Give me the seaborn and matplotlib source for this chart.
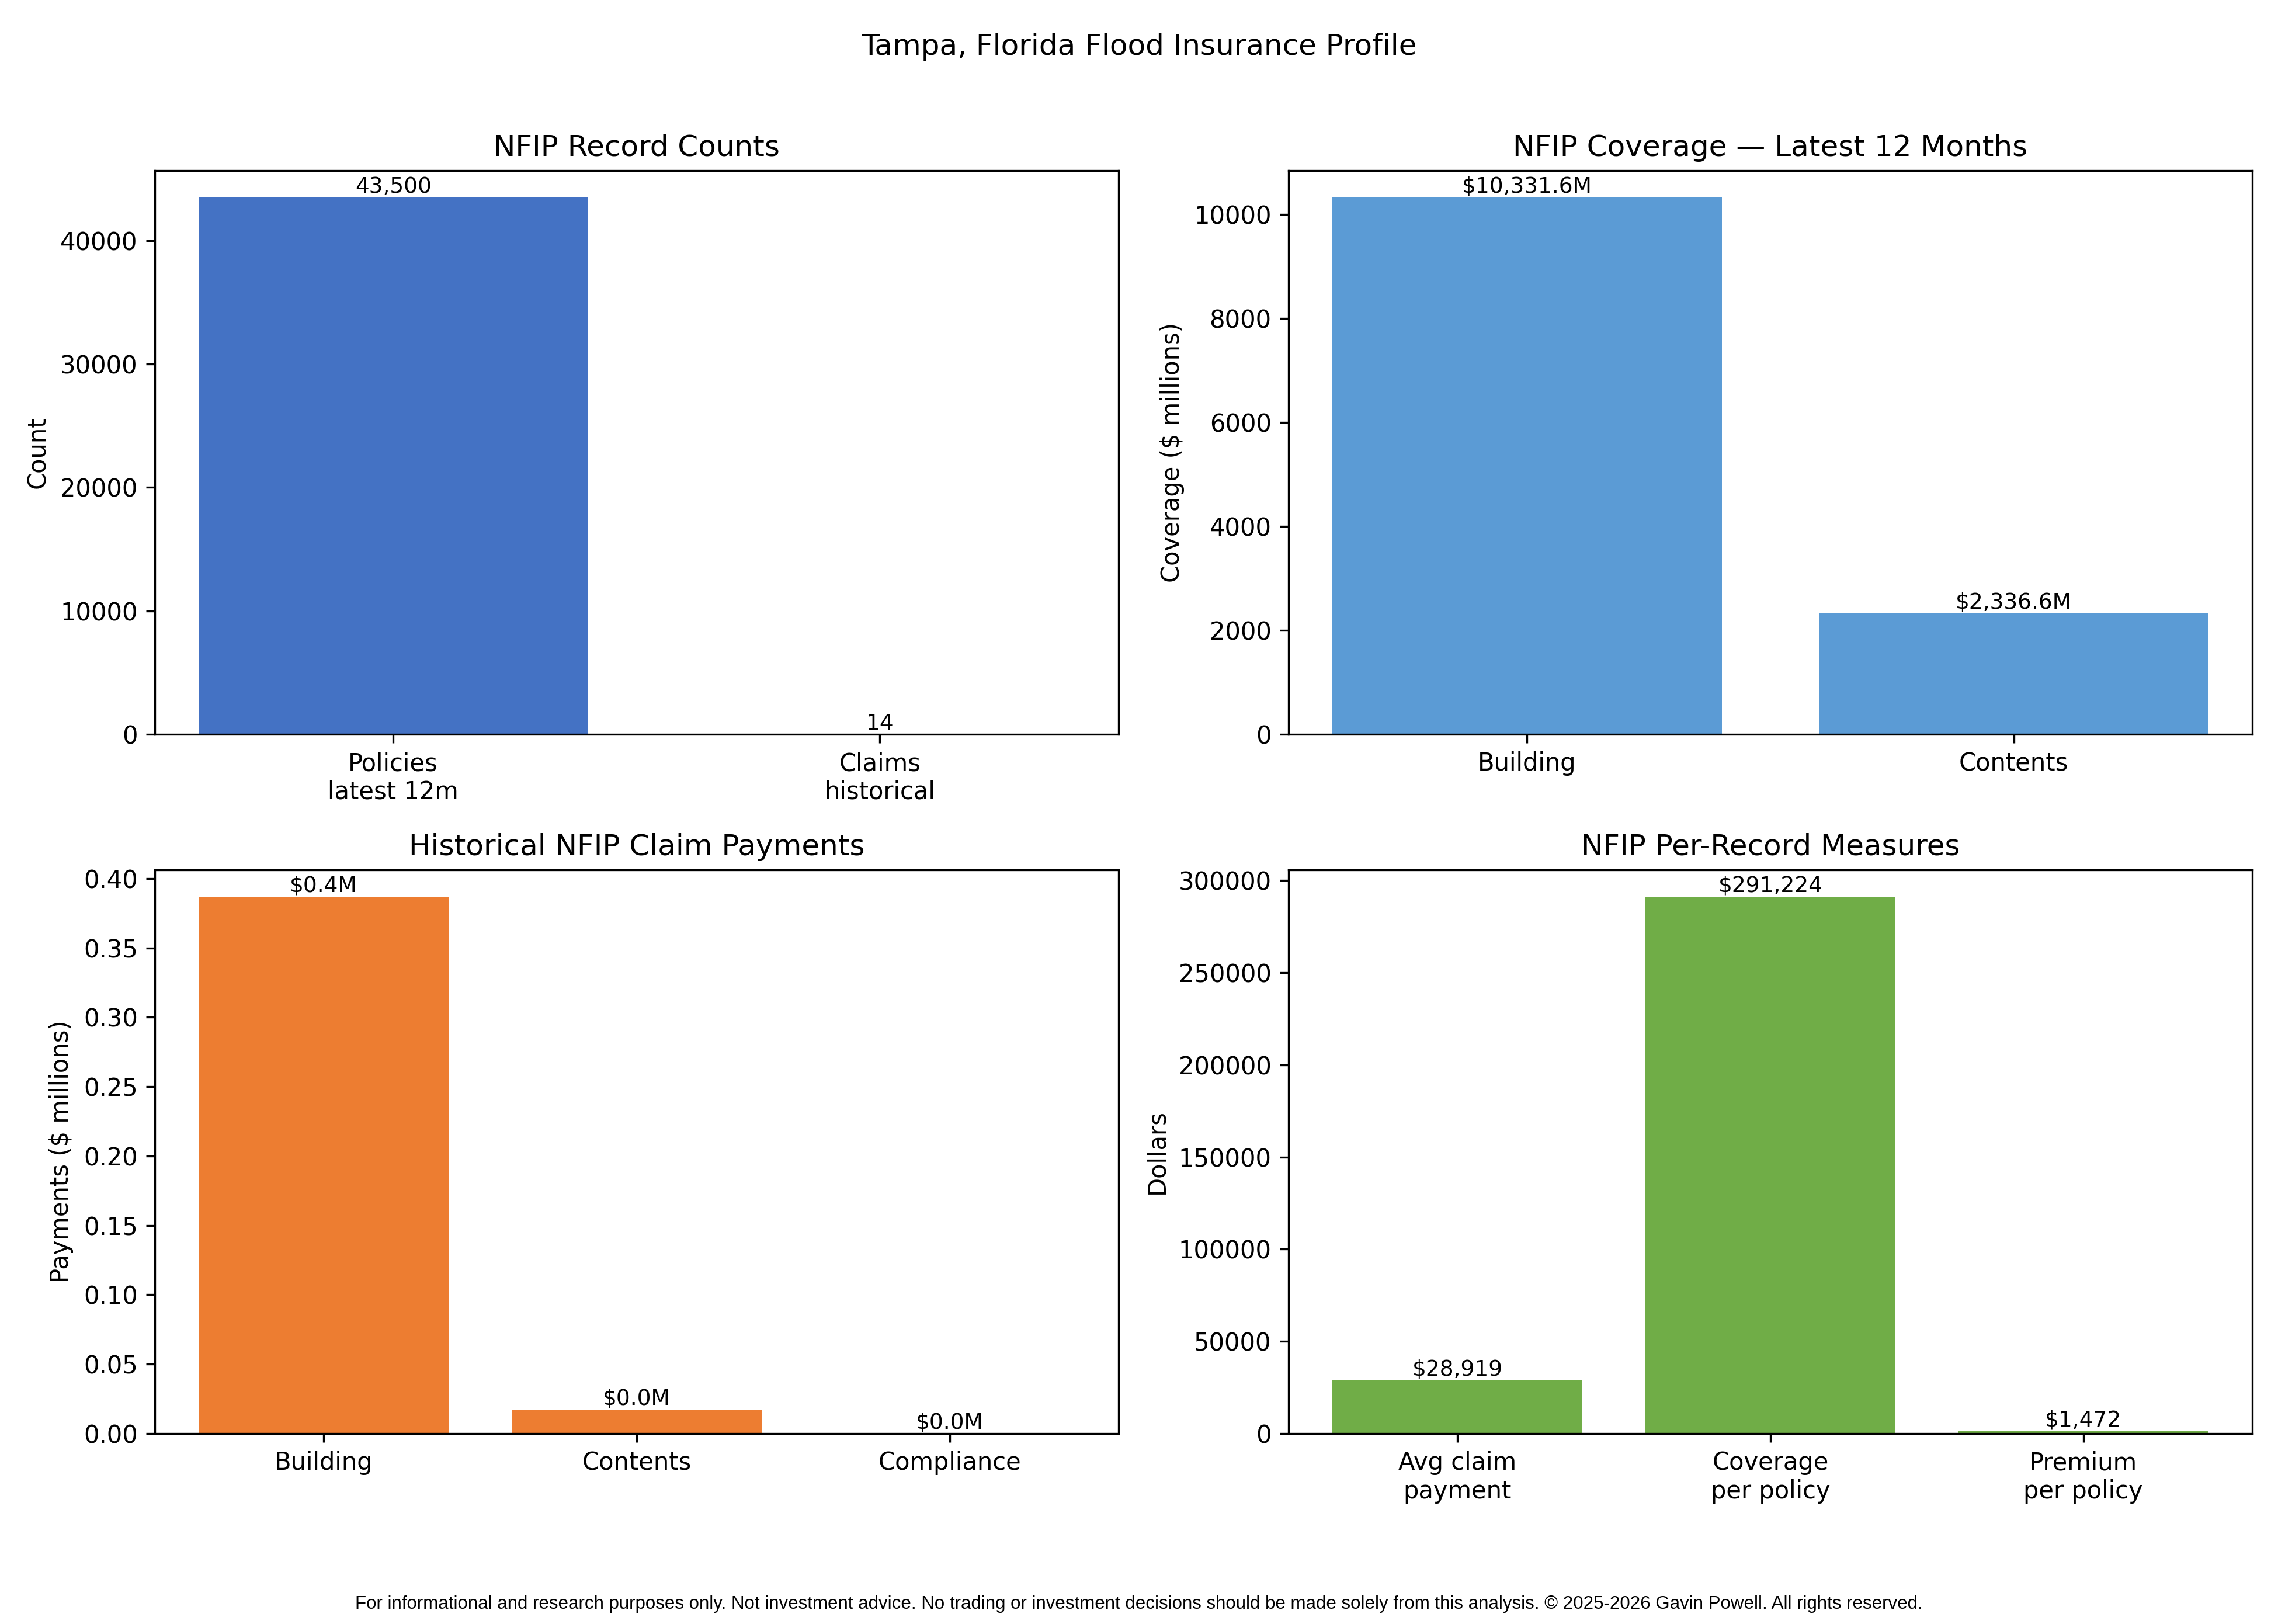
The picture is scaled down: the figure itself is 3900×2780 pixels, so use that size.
import matplotlib
matplotlib.use("Agg")
import matplotlib.pyplot as plt
import seaborn as sns
import pandas as pd

# values
count_labels = ["Policies\nlatest 12m", "Claims\nhistorical"]
count_values = [43500, 14]

coverage_labels = ["Building", "Contents"]
coverage_values = [10331.6, 2336.6]

payment_labels = ["Building", "Contents", "Compliance"]
payment_values = [0.387, 0.0173, 0.0]

measure_labels = ["Avg claim\npayment", "Coverage\nper policy", "Premium\nper policy"]
measure_values = [28919, 291224, 1472]

footer = ("For informational and research purposes only. Not investment advice. "
          "No trading or investment decisions should be made solely from this analysis. "
          "\u00a9 2025-2026 Gavin Powell. All rights reserved.")


def bar_panel(ax, labels, values, color, title, ylabel, fmt):
    df = pd.DataFrame({"label": labels, "value": values})
    sns.barplot(data=df, x="label", y="value", color=color, saturation=1,
                width=0.8, ax=ax)
    # keep matplotlib's usual 5% side margins instead of seaborn's
    n = len(labels)
    pad = 0.05 * (n - 1 + 0.8)
    ax.set_xlim(-0.4 - pad, n - 1 + 0.4 + pad)
    ax.set_title(title)
    ax.set_xlabel("")
    ax.set_ylabel(ylabel)
    ax.bar_label(ax.containers[0], labels=[fmt(v) for v in values], fontsize=9)


fig, axes = plt.subplots(2, 2, figsize=(13, 9.2667))

bar_panel(axes[0, 0], count_labels, count_values, "#4472C4",
          "NFIP Record Counts", "Count", lambda v: f"{v:,.0f}")
bar_panel(axes[0, 1], coverage_labels, coverage_values, "#5B9BD5",
          "NFIP Coverage \u2014 Latest 12 Months", "Coverage ($ millions)",
          lambda v: f"${v:,.1f}M")
bar_panel(axes[1, 0], payment_labels, payment_values, "#ED7D31",
          "Historical NFIP Claim Payments", "Payments ($ millions)",
          lambda v: f"${v:,.1f}M")
bar_panel(axes[1, 1], measure_labels, measure_values, "#70AD47",
          "NFIP Per-Record Measures", "Dollars", lambda v: f"${v:,.0f}")

fig.suptitle("Tampa, Florida Flood Insurance Profile")
fig.text(0.5, 0.0094, footer, ha="center", va="baseline", fontsize=7.5,
         family=["Liberation Sans", "DejaVu Sans"])
fig.subplots_adjust(left=0.0679, right=0.9887, top=0.895, bottom=0.1173,
                    wspace=0.1764, hspace=0.2404)
fig.savefig("out.png", dpi=300)
